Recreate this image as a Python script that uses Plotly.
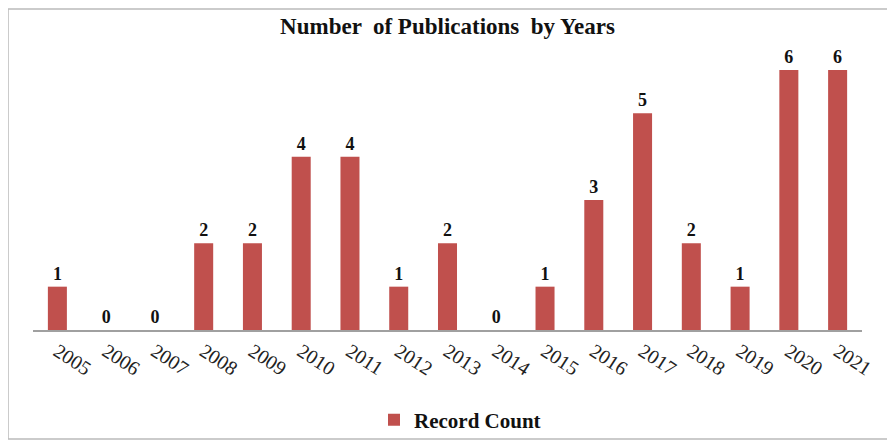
import plotly.graph_objects as go

years = ["2005", "2006", "2007", "2008", "2009", "2010", "2011", "2012", "2013",
         "2014", "2015", "2016", "2017", "2018", "2019", "2020", "2021"]
counts = [1, 0, 0, 2, 2, 4, 4, 1, 2, 0, 1, 3, 5, 2, 1, 6, 6]

OFF = 8  # page body margin
W, H = 895 - OFF, 441 - OFF
# target plot area in window coords: x 33..862, y 44..330
ml, mr = 33 - OFF, 895 - 862
mt, mb = 44 - OFF, 441 - 330
pw, ph = W - ml - mr, H - mt - mb

def px_to_paper_x(x):
    return (x - OFF - ml) / pw

def px_to_paper_y(y):
    return ((H - mb) - (y - OFF)) / ph

fig = go.Figure()
fig.add_trace(go.Bar(
    x=years, y=counts, name="<b>Record Count</b>",
    marker=dict(color="#C0504D", line=dict(width=0)),
    width=0.39,
    text=["<b>%d</b>" % c for c in counts], textposition="outside", cliponaxis=False,
    textfont=dict(family="Liberation Serif", size=18, color="#111111"),
))

# outer frame
fig.add_shape(type="rect", xref="paper", yref="paper",
              x0=px_to_paper_x(OFF), x1=px_to_paper_x(893),
              y0=px_to_paper_y(439), y1=px_to_paper_y(OFF + 1),
              line=dict(color="#BBBBBB", width=1.5), layer="below")

fig.update_layout(
    width=W, height=H,
    margin=dict(l=ml, r=mr, t=mt, b=mb, autoexpand=False),
    paper_bgcolor="white", plot_bgcolor="white",
    title=dict(text="<b>Number  of Publications  by Years</b>", x=0.5, xanchor="center",
               xref="paper",
               y=1 - (26 - OFF) / H, yanchor="middle",
               font=dict(family="Liberation Serif", size=23, color="#111111")),
    xaxis=dict(type="category", tickangle=33, showgrid=False, showline=True,
               linecolor="#A0A0A0", linewidth=2, ticks="", automargin=False,
               tickfont=dict(family="Liberation Serif", size=20, color="#222222")),
    yaxis=dict(range=[0, 6.6], visible=False, showgrid=False, zeroline=False,
               automargin=False),
    showlegend=True,
    legend=dict(orientation="h", x=px_to_paper_x(460), xanchor="center",
                y=px_to_paper_y(420), yanchor="middle", bgcolor="rgba(0,0,0,0)",
                font=dict(family="Liberation Serif", size=21, color="#111111")),
)
fig.write_html("out.html")
